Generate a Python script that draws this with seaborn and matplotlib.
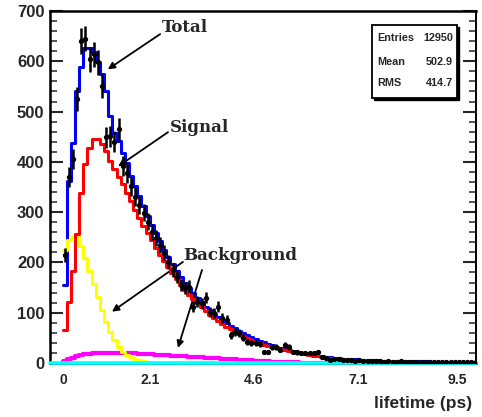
import numpy as np
import pandas as pd
import matplotlib
matplotlib.use("Agg")
import matplotlib.pyplot as plt
import seaborn as sns
from matplotlib.patches import Rectangle
from matplotlib.ticker import MultipleLocator

# ---------------- data (100 bins, width 0.1) ----------------
bin_start = -0.01
bin_width = 0.1
n_bins = 100

total = [155, 362, 438, 541, 588, 626, 626, 618, 598, 574,
         540, 491, 458, 441, 418, 398, 372, 352, 332, 312,
         292, 275, 259, 242, 225, 210, 196, 183, 171, 160,
         149, 139, 130, 121, 112, 105, 98, 91, 85, 79,
         74, 69, 64, 59, 55, 51, 47, 44, 41, 38,
         35, 32, 30, 28, 26, 24, 22, 20, 19, 17,
         16, 14, 13, 12, 11, 10, 9, 8, 8, 7,
         7, 6, 6, 5, 5, 5, 4, 4, 4, 4,
         3, 3, 3, 3, 3, 3, 3, 3, 2, 2,
         2, 2, 2, 2, 2, 2, 2, 2, 2, 2]

signal = [66, 122, 182, 256, 339, 395, 428, 445, 445, 435,
          421, 401, 385, 369, 355, 339, 322, 305, 289, 272,
          259, 244, 229, 215, 202, 190, 179, 167, 156, 146,
          136, 127, 119, 111, 103, 96, 89, 83, 77, 72,
          67, 62, 57, 53, 50, 46, 42, 39, 36, 34,
          31, 29, 27, 25, 23, 22, 20, 19, 17, 16,
          14, 13, 11, 10, 9, 8, 7, 7, 6, 6,
          5, 5, 5, 4, 4, 4, 3, 3, 3, 3,
          3, 2, 2, 2, 2, 2, 2, 2, 2, 2,
          2, 1, 1, 1, 1, 1, 1, 1, 1, 1]

bkg_prompt = [225, 245, 250, 250, 232, 209, 182, 158, 132, 106,
              82, 62, 46, 32, 22, 16, 11, 7, 5, 3,
              2, 1, 0, 0, 0, 0, 0, 0, 0, 0,
              0, 0, 0, 0, 0, 0, 0, 0, 0, 0,
              0, 0, 0, 0, 0, 0, 0, 0, 0, 0,
              0, 0, 0, 0, 0, 0, 0, 0, 0, 0,
              0, 0, 0, 0, 0, 0, 0, 0, 0, 0,
              0, 0, 0, 0, 0, 0, 0, 0, 0, 0,
              0, 0, 0, 0, 0, 0, 0, 0, 0, 0,
              0, 0, 0, 0, 0, 0, 0, 0, 0, 0]

bkg_long = [4, 7, 10, 13, 15, 17, 18, 19, 20, 20,
            20, 20, 20, 20, 20, 19, 19, 19, 18, 18,
            17, 17, 16, 16, 15, 15, 14, 14, 13, 13,
            12, 12, 11, 11, 10, 10, 9, 9, 8, 8,
            7, 7, 6, 6, 5, 5, 4, 4, 3, 3,
            2, 2, 2, 1, 1, 1, 1, 0, 0, 0,
            0, 0, 0, 0, 0, 0, 0, 0, 0, 0,
            0, 0, 0, 0, 0, 0, 0, 0, 0, 0,
            0, 0, 0, 0, 0, 0, 0, 0, 0, 0,
            0, 0, 0, 0, 0, 0, 0, 0, 0, 0]

data = [215, 370, 405, 525, 640, 645, 604, 614, 598, 551,
        449, 451, 440, 465, 391, 378, 351, 331, 315, 299,
        281, 261, 249, 235, 219, 201, 185, 172, 155, 149,
        152, 112, 122, 119, 130, 102, 99, 112, 90, 86,
        56, 62, 60, 50, 42, 40, 40, 38, 22, 22,
        32, 32, 26, 36, 32, 22, 21, 20, 20, 20,
        20, 22, 12, 9, 6, 8, 8, 6, 5, 6,
        4, 5, 4, 3, 4, 3, 3, 2, 3, 2,
        2, 3, 2, 1, 2, 2, 1, 2, 1, 1,
        2, 1, 1, 1, 1, 1, 1, 1, 1, 1]

xtick_pos = [0, 2.1, 4.6, 7.1, 9.5]
xtick_labels = ["0", "2.1", "4.6", "7.1", "9.5"]

stats = [("Entries", "12950"), ("Mean", "502.9"), ("RMS", "414.7")]

# ---------------- style ----------------
sns.set_style("ticks")
plt.rcParams['font.family'] = ['Liberation Sans', 'DejaVu Sans']

edges = [bin_start + i * bin_width for i in range(n_bins + 1)]
centers = np.array(edges[:-1]) + bin_width / 2

fig = plt.figure(figsize=(4.82, 4.17), dpi=100)
ax = fig.add_axes([50 / 482, 1 - 363 / 417, (476 - 50) / 482, (363 - 11) / 417])

series = [
    (total, "#0000FF", 2.2, 3),
    (signal, "#FF0000", 2.2, 4),
    (bkg_prompt, "#FFFF00", 2.2, 3.5),
    (bkg_long, "#FF00FF", 3.0, 3.2),
]
for vals, col, lw, z in series:
    df = pd.DataFrame({"x": centers, "w": np.asarray(vals, dtype=float)})
    sns.histplot(data=df, x="x", weights="w", bins=edges, element="step", fill=False,
                 color=col, linewidth=lw, ax=ax, zorder=z)

ax.axhline(0, color="#00FFFF", lw=2.6, zorder=6, clip_on=False)

d = np.array(data, dtype=float)
ax.errorbar(centers, d, yerr=np.sqrt(d), fmt="o", color="black", ms=2.8,
            elinewidth=1.8, capsize=0, zorder=8)

ax.set_xlim(-0.313, 9.952)
ax.set_ylim(0, 700)
ax.set_ylabel("")
ax.set_xticks(xtick_pos, labels=xtick_labels)
ax.yaxis.set_major_locator(MultipleLocator(100))
ax.yaxis.set_minor_locator(MultipleLocator(20))
ax.tick_params(axis="y", which="major", direction="in", length=9.5, width=1.5,
               labelsize=12, right=True, pad=4)
ax.tick_params(axis="y", which="minor", direction="in", length=5, width=1.1,
               right=True)
ax.tick_params(axis="x", which="both", length=0, labelsize=10, pad=7)
for lab in ax.get_yticklabels() + ax.get_xticklabels():
    lab.set_fontweight("bold")
for s in ["left", "top", "right", "bottom"]:
    ax.spines[s].set_visible(True)
    ax.spines[s].set_linewidth(1.8)
    ax.spines[s].set_color("black")
ax.spines["right"].set_linewidth(1.4)

ax.set_xlabel("lifetime (ps)", fontsize=12.5, fontweight="bold", ha="right")
ax.xaxis.set_label_coords((472 - 50) / 426, (363 - 396) / 352)

# ---------------- annotations ----------------
serif = dict(family=["DejaVu Serif"], fontweight="bold", fontsize=12)
arrow = dict(arrowstyle="-|>", color="black", lw=1.3, mutation_scale=10,
             shrinkA=0, shrinkB=0)
ax.text(2.39, 668, "Total", va="center", ha="left", **serif)
ax.annotate("", xy=(1.08, 584), xytext=(2.34, 654), arrowprops=arrow)
ax.text(2.58, 469, "Signal", va="center", ha="left", **serif)
ax.annotate("", xy=(1.33, 391), xytext=(2.53, 459), arrowprops=arrow)
ax.text(2.89, 213, "Background", va="center", ha="left", **serif)
ax.annotate("", xy=(1.18, 102), xytext=(2.89, 201), arrowprops=arrow)
ax.annotate("", xy=(2.77, 30), xytext=(3.35, 185), arrowprops=arrow)

# ---------------- stats box ----------------
bx0, bx1 = 372 / 482, 457 / 482
by1, by0 = 1 - 25 / 417, 1 - 98 / 417
fig.patches.append(Rectangle((bx0 + 2 / 482, by0 - 2 / 417), bx1 - bx0, by1 - by0,
                             transform=fig.transFigure, facecolor="black",
                             edgecolor="black", zorder=9))
fig.patches.append(Rectangle((bx0, by0), bx1 - bx0, by1 - by0,
                             transform=fig.transFigure, facecolor="white",
                             edgecolor="black", lw=1.3, zorder=10))
rows_y = [38, 62, 83]
for (k, v), yy in zip(stats, rows_y):
    fig.text(377 / 482, 1 - yy / 417, k, ha="left", va="center", fontsize=7.8,
             fontweight="bold", zorder=11)
    fig.text(453 / 482, 1 - yy / 417, v, ha="right", va="center", fontsize=7.8,
             fontweight="bold", zorder=11)

fig.savefig("out.png", dpi=100)
